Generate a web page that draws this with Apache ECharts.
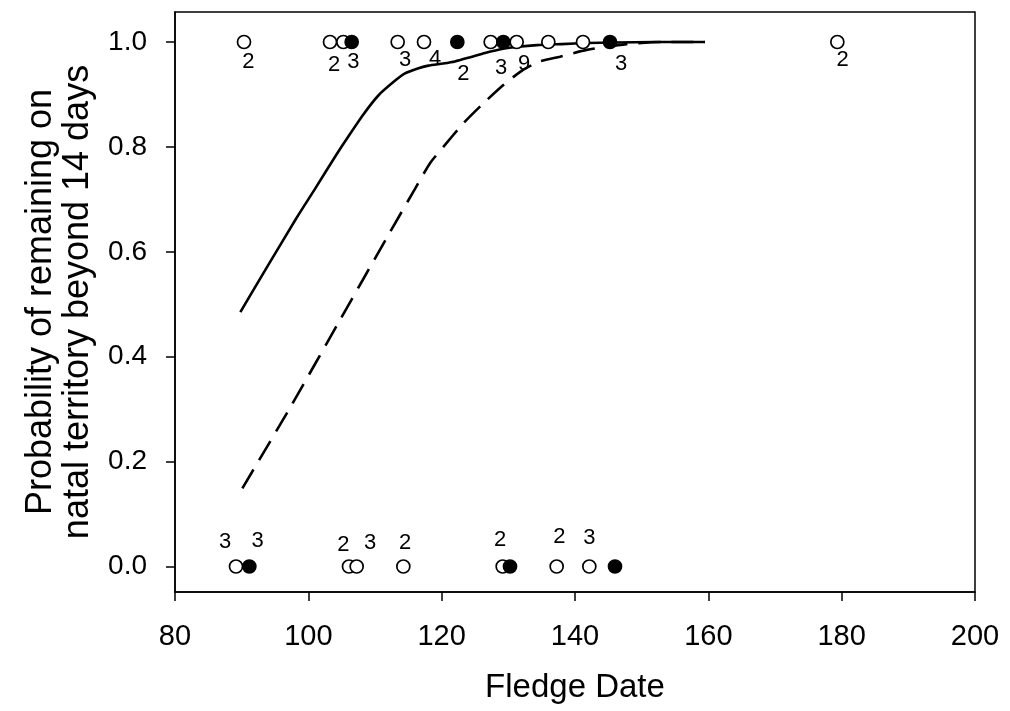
<!DOCTYPE html>
<html>
<head>
<meta charset="utf-8">
<script src="https://cdn.jsdelivr.net/npm/echarts@6/dist/echarts.min.js"></script>
<style>
html,body{margin:0;padding:0;background:#fff;}
#chart{width:1010px;height:711px;}
</style>
</head>
<body>
<div id="chart"></div>
<script>
// ---- data ----
const yTickValues = [0, 0.2, 0.4, 0.6, 0.8, 1.0];
const openTopX = [90.35, 103.25, 105.25, 113.4, 117.35, 127.35, 131.25, 136.0, 141.2, 179.35];
const filledTopX = [106.5, 122.35, 129.25, 145.25];
const openBottomX = [89.15, 106.1, 107.25, 114.25, 129.15, 137.25, 142.15];
const filledBottomX = [91.15, 130.25, 146.0];

const labelX = [91.0, 103.85, 106.75, 114.5, 119.0, 123.25, 128.9, 132.35, 146.9, 180.15,
                87.5, 92.4, 105.25, 109.25, 114.5, 128.75, 137.65, 142.15];
const labelY = [0.962, 0.956, 0.962, 0.966, 0.967, 0.939, 0.950, 0.959, 0.959, 0.966,
                0.047, 0.049, 0.041, 0.044, 0.044, 0.050, 0.057, 0.054];
const labelText = ['2', '2', '3', '3', '4', '2', '3', '9', '3', '2',
                   '3', '3', '2', '3', '2', '2', '2', '3'];

const solidX = [89.8, 94, 98.2, 101, 104.2, 106, 108.2, 110.5, 112.8, 114.5, 116.3, 118, 120.2, 122, 124.3, 126.5, 129.2, 131.5, 134.3, 138, 141.8, 146, 152, 159.5];
const solidY = [0.485, 0.575, 0.664, 0.72, 0.785, 0.82, 0.861, 0.898, 0.924, 0.94, 0.949, 0.955, 0.959, 0.963, 0.971, 0.979, 0.987, 0.991, 0.994, 0.996, 0.998, 0.999, 1.0, 1.0];
const dashX = [90.1, 97.5, 104.75, 112, 116, 118.25, 120.25, 123.25, 126, 129.25, 132, 134.5, 137.75, 141.75, 147.75, 153, 159.5];
const dashY = [0.149, 0.308, 0.470, 0.632, 0.72, 0.769, 0.800, 0.845, 0.880, 0.918, 0.945, 0.962, 0.972, 0.985, 0.996, 1.0, 1.0];

// ---- build ----
const pair = (xs, ys) => xs.map((x, i) => [x, ys[i]]);
const row = (xs, y) => xs.map(x => [x, y]);
const labelData = labelX.map((x, i) => [x, labelY[i], labelText[i]]);
const FONT = "'Liberation Sans', Arial, Helvetica, sans-serif";

const chart = echarts.init(document.getElementById('chart'), null, {renderer: 'canvas'});
chart.setOption({
  backgroundColor: '#ffffff',
  animation: false,
  grid: {left: 175, right: 35, top: 12, bottom: 119, show: true, borderColor: '#000', borderWidth: 1.5, backgroundColor: 'transparent'},
  xAxis: {
    type: 'value', min: 80, max: 200, interval: 20,
    name: 'Fledge Date', nameLocation: 'middle', nameGap: 79,
    nameTextStyle: {fontFamily: FONT, fontSize: 33, color: '#000'},
    axisLine: {show: true, onZero: false, lineStyle: {color: '#000', width: 1.5}},
    axisTick: {show: true, inside: false, length: 9, lineStyle: {color: '#000', width: 1.5}},
    axisLabel: {fontFamily: FONT, fontSize: 29, color: '#000', margin: 30},
    splitLine: {show: false}
  },
  yAxis: {
    type: 'value', min: -0.0486, max: 1.0572,
    name: 'Probability of remaining on\nnatal territory beyond 14 days',
    nameLocation: 'middle', nameRotate: 90, nameGap: 78,
    nameTextStyle: {fontFamily: FONT, fontSize: 36, color: '#000', lineHeight: 37},
    axisLine: {show: true, onZero: false, lineStyle: {color: '#000', width: 1.5}},
    axisTick: {show: true, inside: false, length: 9, customValues: yTickValues, lineStyle: {color: '#000', width: 1.5}},
    axisLabel: {fontFamily: FONT, fontSize: 28, color: '#000', margin: 28, customValues: yTickValues,
      formatter: v => v.toFixed(1)},
    splitLine: {show: false}
  },
  series: [
    {type: 'line', data: pair(solidX, solidY), showSymbol: false, symbol: 'none', smooth: 0.2,
      lineStyle: {color: '#000', width: 2.6}, z: 2},
    {type: 'line', data: pair(dashX, dashY), showSymbol: false, symbol: 'none', smooth: 0.2,
      lineStyle: {color: '#000', width: 2.6, type: [22, 11]}, z: 2},
    {type: 'scatter', data: row(openTopX, 1.0).concat(row(openBottomX, 0.0)), symbol: 'circle', symbolSize: 13,
      itemStyle: {color: '#fff', borderColor: '#000', borderWidth: 1.7, opacity: 1}, z: 3},
    {type: 'scatter', data: row(filledTopX, 1.0).concat(row(filledBottomX, 0.0)), symbol: 'circle', symbolSize: 13,
      itemStyle: {color: '#000', borderColor: '#000', borderWidth: 1.7, opacity: 1}, z: 4},
    {type: 'scatter', data: labelData, symbolSize: 0, z: 5, itemStyle: {opacity: 1},
      label: {show: true, position: 'inside', formatter: p => p.value[2], fontFamily: FONT, fontSize: 22, color: '#000'}}
  ]
});
</script>
</body>
</html>
